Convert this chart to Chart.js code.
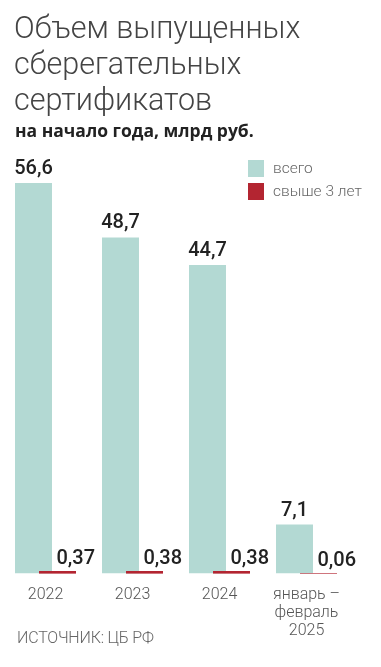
<!DOCTYPE html>
<html lang="ru">
<head>
<meta charset="utf-8">
<title>Объем выпущенных сберегательных сертификатов</title>
<script src="https://cdn.jsdelivr.net/npm/chart.js@4.4.1/dist/chart.umd.min.js"></script>
<style>
  html, body { margin: 0; padding: 0; background: #fff; }
  #wrap { position: relative; width: 381px; height: 667px; overflow: hidden; }
  #chartBox { position: absolute; left: 0; top: 0; width: 381px; height: 667px; }
  .title {
    position: absolute; left: 14px; top: 9.5px;
    font-family: Roboto, sans-serif; font-weight: 300;
    font-size: 30.5px; line-height: 36px; color: #444;
  }
  .subtitle {
    position: absolute; left: 15px; top: 118px;
    font-family: "Open Sans", Roboto, sans-serif; font-weight: 700;
    font-size: 17.5px; color: #222;
  }
  .source {
    position: absolute; left: 17px; top: 628px;
    font-family: Roboto, sans-serif; font-weight: 300;
    font-size: 16px; color: #666; letter-spacing: -0.2px;
  }
</style>
</head>
<body>
<div id="wrap">
  <div id="chartBox"><canvas id="chart"></canvas></div>
  <div class="title">Объем выпущенных<br>сберегательных<br>сертификатов</div>
  <div class="subtitle">на начало года, млрд руб.</div>
  <div class="source">ИСТОЧНИК: ЦБ РФ</div>
</div>
<script>
// Data
const categories = ['2022', '2023', '2024', ['январь –', 'февраль', '2025']];
const totalValues = [56.6, 48.7, 44.7, 7.1];
const over3Values = [0.37, 0.38, 0.38, 0.06];
const seriesNames = ['всего', 'свыше 3 лет'];

const tealColor = '#b3d9d3';
const redColor = '#b32531';

function fmt(v) {
    return String(v).replace('.', ',');
}

// Value labels + legend drawn on the canvas
const labelsPlugin = {
    id: 'valueLabels',
    afterDatasetsDraw(chart) {
        const ctx = chart.ctx;
        const meta0 = chart.getDatasetMeta(0);
        const meta1 = chart.getDatasetMeta(1);

        // red bars sit on top of the teal ones where they overlap
        meta1.data.forEach(bar => bar.draw(ctx));

        ctx.save();
        ctx.fillStyle = '#222';
        ctx.font = '500 20px Roboto, sans-serif';
        ctx.textBaseline = 'alphabetic';

        // total: centred above the bar
        meta0.data.forEach((bar, i) => {
            ctx.textAlign = 'center';
            ctx.fillText(fmt(totalValues[i]), bar.x, bar.y - 9);
        });

        // over 3 years: starts at the bar centre
        meta1.data.forEach((bar, i) => {
            ctx.textAlign = 'left';
            ctx.fillText(fmt(over3Values[i]), bar.x - 1, bar.y - 7);
        });

        // legend
        ctx.font = '300 15.5px Roboto, sans-serif';
        ctx.textAlign = 'left';
        ctx.textBaseline = 'middle';
        chart.data.datasets.forEach((ds, i) => {
            const y = 160 + i * 23;
            ctx.fillStyle = ds.backgroundColor;
            ctx.fillRect(248, y, 16, 17);
            ctx.fillStyle = '#666';
            ctx.fillText(ds.label, 273, y + 9);
        });
        ctx.restore();
    }
};

const ctx = document.getElementById('chart').getContext('2d');
const chart = new Chart(ctx, {
    type: 'bar',
    data: {
        labels: categories,
        datasets: [
            {
                label: seriesNames[0],
                data: totalValues,
                backgroundColor: tealColor,
                categoryPercentage: 0.552,
                barPercentage: 1.54
            },
            {
                label: seriesNames[1],
                data: over3Values,
                backgroundColor: redColor,
                categoryPercentage: 0.552,
                barPercentage: 1.54
            }
        ]
    },
    options: {
        responsive: true,
        maintainAspectRatio: false,
        animation: false,
        layout: {
            padding: { top: 159.5, bottom: 14.7, left: 2, right: 31 }
        },
        plugins: {
            legend: { display: false },
            tooltip: { enabled: false }
        },
        scales: {
            x: {
                grid: { display: false, drawTicks: false, tickLength: 0 },
                border: { display: false },
                ticks: {
                    color: '#555',
                    padding: 13,
                    maxRotation: 0,
                    autoSkip: false,
                    font: { family: 'Roboto, sans-serif', size: 16, weight: '300', lineHeight: 1.1 }
                }
            },
            y: {
                display: false,
                min: 0,
                max: 60
            }
        }
    },
    plugins: [labelsPlugin]
});
</script>
</body>
</html>
